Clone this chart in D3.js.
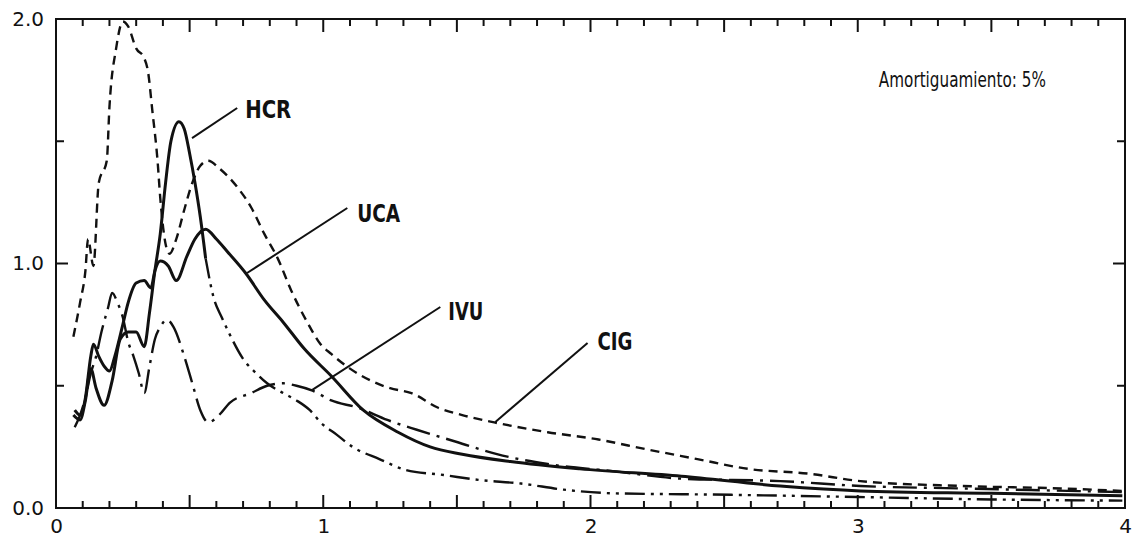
<!DOCTYPE html>
<html>
<head>
<meta charset="utf-8">
<script src="https://cdn.jsdelivr.net/npm/d3@7"></script>
<style>
  html, body { margin: 0; padding: 0; background: #fff; }
  svg { display: block; }
</style>
</head>
<body>
<svg id="chart" width="1135" height="539"></svg>
<script>
// ---------- data ----------
const xTickValues = [0, 1, 2, 3, 4];
const xTickLabels = ["0", "1", "2", "3", "4"];
const yTickValues = [0, 1, 2];
const yTickLabels = ["0.0", "1.0", "2.0"];

const cigX = [0.065,0.09,0.11,0.12,0.14,0.16,0.19,0.20,0.225,0.25,0.27,0.30,0.33,0.345,0.36,0.38,0.39,0.41,0.425,0.45,0.48,0.51,0.54,0.57,0.61,0.68,0.73,0.78,0.83,0.88,0.94,0.99,1.03,1.10,1.18,1.25,1.33,1.43,1.52,1.64,1.84,2.03,2.21,2.40,2.59,2.82,3.01,3.39,3.76,3.99];
const cigY = [0.70,0.84,0.97,1.10,0.99,1.33,1.42,1.64,1.88,1.99,1.97,1.88,1.84,1.78,1.63,1.42,1.27,1.08,1.04,1.10,1.22,1.33,1.40,1.42,1.39,1.31,1.23,1.12,1.02,0.89,0.76,0.67,0.63,0.57,0.52,0.49,0.47,0.41,0.38,0.35,0.31,0.28,0.24,0.20,0.16,0.14,0.11,0.09,0.08,0.07];

const ucaX = [0.07,0.09,0.11,0.13,0.14,0.16,0.18,0.20,0.22,0.25,0.27,0.30,0.33,0.355,0.37,0.39,0.42,0.45,0.49,0.52,0.56,0.60,0.64,0.71,0.78,0.85,0.93,1.03,1.15,1.28,1.40,1.52,1.70,1.96,2.34,2.71,3.01,3.50,3.99];
const ucaY = [0.40,0.38,0.45,0.62,0.67,0.62,0.58,0.56,0.62,0.75,0.84,0.92,0.93,0.90,0.97,1.01,0.99,0.93,1.03,1.10,1.14,1.10,1.05,0.96,0.85,0.76,0.65,0.54,0.40,0.31,0.25,0.22,0.19,0.16,0.13,0.09,0.07,0.06,0.05];

const hcrX = [0.065,0.09,0.11,0.13,0.15,0.18,0.21,0.24,0.27,0.30,0.33,0.35,0.37,0.39,0.41,0.43,0.46,0.48,0.50,0.52,0.54,0.56,0.59,0.62,0.65,0.70,0.75,0.79,0.85,0.90,0.95,0.99,1.05,1.11,1.21,1.31,1.45,1.58,1.74,1.90,2.09,2.46,3.00,3.50,3.99];
const hcrY = [0.38,0.36,0.44,0.57,0.49,0.42,0.52,0.69,0.72,0.72,0.66,0.80,0.97,1.12,1.33,1.50,1.58,1.55,1.45,1.33,1.19,1.02,0.86,0.78,0.71,0.61,0.55,0.51,0.47,0.44,0.40,0.35,0.30,0.25,0.20,0.155,0.135,0.115,0.10,0.075,0.06,0.055,0.045,0.035,0.03];

const ivuX = [0.07,0.09,0.11,0.13,0.15,0.17,0.195,0.21,0.23,0.25,0.27,0.29,0.31,0.33,0.35,0.37,0.39,0.415,0.44,0.48,0.51,0.54,0.57,0.61,0.65,0.73,0.79,0.85,0.90,0.96,1.03,1.13,1.24,1.35,1.50,1.65,1.84,2.09,2.34,2.71,3.01,3.39,3.99];
const ivuY = [0.33,0.38,0.45,0.55,0.62,0.72,0.82,0.88,0.84,0.78,0.68,0.62,0.55,0.47,0.58,0.69,0.74,0.77,0.74,0.62,0.51,0.40,0.35,0.38,0.43,0.47,0.50,0.51,0.50,0.48,0.44,0.41,0.36,0.32,0.27,0.22,0.18,0.15,0.12,0.11,0.09,0.08,0.065];

// label annotations (data coordinates)
const seriesNames = ["HCR", "UCA", "IVU", "CIG"];
const labelX = [0.708, 1.127, 1.468, 2.026];
const labelY = [1.595, 1.170, 0.769, 0.646];
const labelWidth = [46, 43, 35, 35];
const leaderFromX = [0.509, 0.715, 0.959, 1.644];
const leaderFromY = [1.513, 0.961, 0.483, 0.352];
const leaderToX = [0.678, 1.090, 1.438, 1.989];
const leaderToY = [1.636, 1.227, 0.822, 0.675];
const noteText = "Amortiguamiento:  5%";

// ---------- chart ----------
const svg = d3.select("#chart");
const L = 56, R = 1125, T = 19, B = 508;
const x = d3.scaleLinear().domain([0, 4]).range([L, R]);
const y = d3.scaleLinear().domain([0, 2]).range([B, T]);

const ink = "#111";

// frame
svg.append("rect").attr("x", L).attr("y", T).attr("width", R - L).attr("height", B - T)
  .attr("fill", "none").attr("stroke", ink).attr("stroke-width", 2);

// x ticks every 0.1, longer every 0.5, inward on bottom and top
const xTicksAll = d3.range(1, 40).map(i => i / 10);
const isHalf = v => Math.abs(v * 2 - Math.round(v * 2)) < 1e-6;
const tg = svg.append("g").attr("stroke", ink).attr("stroke-width", 2);
tg.selectAll("line.xb").data(xTicksAll).join("line").attr("class", "xb")
  .attr("x1", d => x(d)).attr("x2", d => x(d))
  .attr("y1", B).attr("y2", d => B - (isHalf(d) ? 13 : 7));
tg.selectAll("line.xt").data(xTicksAll).join("line").attr("class", "xt")
  .attr("x1", d => x(d)).attr("x2", d => x(d))
  .attr("y1", T).attr("y2", d => T + (isHalf(d) ? 13 : 7));
// y ticks at 0.5 steps, inward left and right
const yHalf = [0.5, 1.0, 1.5];
tg.selectAll("line.yl").data(yHalf).join("line").attr("class", "yl")
  .attr("x1", L).attr("x2", d => L + (d === 1 ? 12 : 8))
  .attr("y1", d => y(d)).attr("y2", d => y(d));
tg.selectAll("line.yr").data(yHalf).join("line").attr("class", "yr")
  .attr("x1", R).attr("x2", d => R - (d === 1 ? 12 : 8))
  .attr("y1", d => y(d)).attr("y2", d => y(d));

// x labels
const xl = svg.append("g").attr("transform", `translate(0,${B})`)
  .call(d3.axisBottom(x).tickValues(xTickValues).tickSize(0).tickPadding(11)
    .tickFormat((d, i) => xTickLabels[i]));
xl.select(".domain").remove();
xl.selectAll("text").attr("font-family", "DejaVu Sans, sans-serif").attr("font-size", 20)
  .attr("fill", ink).attr("dy", "0.71em");

// y labels
const yl = svg.append("g").attr("transform", `translate(${L},0)`)
  .call(d3.axisLeft(y).tickValues(yTickValues).tickSize(0).tickPadding(12)
    .tickFormat((d, i) => yTickLabels[i]));
yl.select(".domain").remove();
yl.selectAll("text").attr("font-family", "DejaVu Sans, sans-serif").attr("font-size", 20)
  .attr("fill", ink);

// ---------- curves ----------
const line = d3.line().x(d => x(d[0])).y(d => y(d[1])).curve(d3.curveMonotoneX);
const zip = (xs, ys) => xs.map((v, i) => [v, ys[i]]);

const cig = zip(cigX, cigY), uca = zip(ucaX, ucaY), hcr = zip(hcrX, hcrY), ivu = zip(ivuX, ivuY);
const plot = svg.append("g");

plot.append("path").attr("d", line(cig)).attr("fill", "none").attr("stroke", ink)
  .attr("stroke-width", 2.4).attr("stroke-dasharray", "9,6");
plot.append("path").attr("d", line(ivu)).attr("fill", "none").attr("stroke", ink)
  .attr("stroke-width", 2.4).attr("stroke-dasharray", "24,7,3,7");
plot.append("path").attr("d", line(uca)).attr("fill", "none").attr("stroke", ink)
  .attr("stroke-width", 3);
// HCR: solid through its peak, then long dash - dot - dot
const hcrBreak = 0.56;
plot.append("path").attr("d", line(hcr.filter(d => d[0] <= hcrBreak))).attr("fill", "none")
  .attr("stroke", ink).attr("stroke-width", 3);
plot.append("path").attr("d", line(hcr.filter(d => d[0] >= hcrBreak))).attr("fill", "none")
  .attr("stroke", ink).attr("stroke-width", 2.4).attr("stroke-dasharray", "20,6,3,6,3,6");

// ---------- labels ----------
seriesNames.forEach((name, i) => {
  svg.append("line").attr("x1", x(leaderFromX[i])).attr("y1", y(leaderFromY[i]))
    .attr("x2", x(leaderToX[i])).attr("y2", y(leaderToY[i]))
    .attr("stroke", ink).attr("stroke-width", 2);
  svg.append("text").attr("x", x(labelX[i])).attr("y", y(labelY[i]))
    .attr("font-family", "Liberation Sans Narrow, DejaVu Sans Condensed, Liberation Sans, sans-serif")
    .attr("font-weight", "bold").attr("font-size", 25)
    .attr("textLength", labelWidth[i]).attr("lengthAdjust", "spacingAndGlyphs")
    .attr("fill", ink).text(name);
});

svg.append("text").attr("x", x(3.079)).attr("y", y(1.72))
  .attr("font-family", "DejaVu Sans, sans-serif").attr("font-size", 21)
  .attr("textLength", 167).attr("lengthAdjust", "spacingAndGlyphs")
  .attr("fill", ink).text(noteText);
</script>
</body>
</html>
